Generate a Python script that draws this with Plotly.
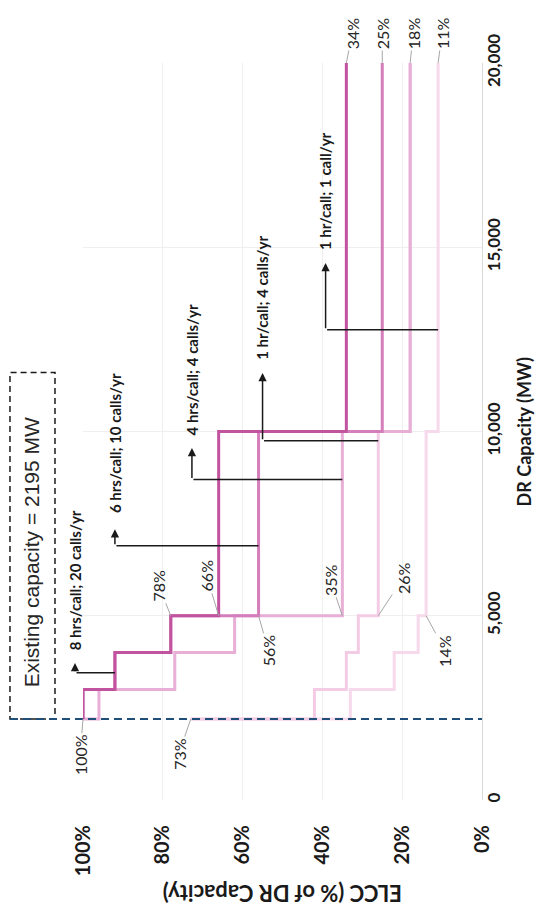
import plotly.graph_objects as go

# ---------------- data ----------------
mw_breaks = [2195, 3000, 4000, 5000, 10000, 20000]
series_names = ["8 hrs/call; 20 calls/yr", "6 hrs/call; 10 calls/yr",
                "4 hrs/call; 4 calls/yr", "1 hr/call; 4 calls/yr",
                "1 hr/call; 1 call/yr"]
start_elcc = [100, 100, 100, 73, 73]
elcc_8h20 = [100, 92, 78, 66, 34]
elcc_6h10 = [100, 92, 78, 56, 25]
elcc_4h4 = [96, 77, 62, 35, 18]
elcc_1h4 = [42, 34, 31, 26, 18]
elcc_1h1 = [33, 22, 16, 14, 11]
series_vals = [elcc_8h20, elcc_6h10, elcc_4h4, elcc_1h4, elcc_1h1]

existing_mw = 2195
x_ticks = [100, 80, 60, 40, 20, 0]
y_ticks = [0, 5000, 10000, 15000, 20000]

# callouts: MW where connector meets the series, tranche index
callout_mw = [3450, 6900, 8700, 9750, 12760]
callout_tranche = [1, 3, 3, 3, 4]

# ---------------- styles / positions ----------------
colors = ["#C2549F", "#D47EBC", "#E7AED6", "#F3CBE4", "#F7D9EC"]
callout_elbow = [102, 92, 72.7, 55, 39.2]       # ELCC of the elbow
callout_tip = [3720, 7350, 9550, 11590, 14570]  # MW of arrow tip
callout_text_mw = [4010, 7730, 9850, 11880, 14860]

FONT = "Lato"
X0, X1 = 100, 0


def px(e):
    """ELCC value -> paper x (reversed axis)"""
    return (X0 - e) / (X0 - X1)


fig = go.Figure()

for i in reversed(range(5)):
    xs = [start_elcc[i]] + series_vals[i] + [series_vals[i][-1]]
    ys = [mw_breaks[0]] + mw_breaks
    fig.add_trace(go.Scatter(x=xs, y=ys, mode="lines", line_shape="vh",
                             line=dict(color=colors[i], width=3),
                             name=series_names[i], showlegend=False,
                             hoverinfo="skip"))

annos = []
for k in range(5):
    tgt = series_vals[k][callout_tranche[k]]
    annos.append(dict(x=tgt, y=callout_mw[k], ax=callout_elbow[k], ay=callout_mw[k],
                      xref="x", yref="y", axref="x", ayref="y", text="",
                      showarrow=True, arrowhead=0, arrowwidth=1.5,
                      arrowcolor="#1a1a1a", standoff=0, startstandoff=0))
    annos.append(dict(x=px(callout_elbow[k]), y=callout_tip[k], ax=0,
                      ay=callout_mw[k], xref="paper", yref="y", axref="pixel",
                      ayref="y", text="", showarrow=True, arrowhead=2,
                      arrowsize=1.1, arrowwidth=1.5, arrowcolor="#1a1a1a",
                      standoff=0, startstandoff=0))
    annos.append(dict(x=px(callout_elbow[k]), y=callout_text_mw[k], xref="paper",
                      yref="y", text="<b>" + series_names[k] + "</b>",
                      textangle=-90, showarrow=False, xanchor="center",
                      yanchor="bottom",
                      font=dict(family=FONT, size=15, color="#1a1a1a")))

labels = [
    (start_elcc[0], mw_breaks[0], -3, 36),
    (start_elcc[3], mw_breaks[0], -12, 35),
    (elcc_8h20[2], mw_breaks[3], -12, -30),
    (elcc_8h20[3], mw_breaks[3], -12, -40),
    (elcc_6h10[3], mw_breaks[3], 10, 35),
    (elcc_4h4[3], mw_breaks[3], -12, -36),
    (elcc_1h4[3], mw_breaks[3], 25, -38),
    (elcc_1h1[3], mw_breaks[3], 19, 35),
    (elcc_8h20[4], mw_breaks[5], 6, -30),
    (elcc_6h10[4], mw_breaks[5], 0, -30),
    (elcc_4h4[4], mw_breaks[5], 3, -30),
    (elcc_1h1[4], mw_breaks[5], 4, -30),
]
for v, m, dx, dy in labels:
    annos.append(dict(x=v, y=m, xref="x", yref="y", text=f"{v}%", textangle=-90,
                      showarrow=True, arrowhead=0, arrowwidth=1, arrowcolor="#A6A6A6",
                      ax=dx, ay=dy, standoff=0,
                      font=dict(family=FONT, size=16, color="#262626")))

annos.append(dict(x=-0.127, y=0.3365, xref="paper", yref="paper",
                  xanchor="center", yanchor="middle",
                  text="Existing capacity = " + str(existing_mw) + " MW",
                  textangle=-90, showarrow=False,
                  font=dict(family="Liberation Sans", size=21, color="#262626")))
annos.append(dict(x=1.105, y=0.5, xref="paper", yref="paper",
                  xanchor="center", yanchor="middle",
                  text="<b>DR Capacity (MW)</b>", textangle=-90, showarrow=False,
                  font=dict(family=FONT, size=18, color="#1a1a1a")))
annos.append(dict(x=0.5, y=-0.127, xref="paper", yref="paper",
                  xanchor="center", yanchor="middle",
                  text="<b>ELCC (% of DR Capacity)</b>", textangle=180,
                  showarrow=False,
                  font=dict(family=FONT, size=22, color="#1a1a1a")))

shapes = [
    dict(type="rect", xref="paper", yref="paper", x0=-0.183, x1=-0.0702,
         y0=existing_mw / 20000, y1=0.58,
         line=dict(color="#1a1a1a", width=1.5, dash="6px,4px")),
    dict(type="line", xref="paper", yref="paper", x0=-0.183, x1=1,
         y0=existing_mw / 20000, y1=existing_mw / 20000,
         line=dict(color="#1F4E79", width=2, dash="8px,5px")),
]

fig.update_layout(
    width=555, height=923,
    margin=dict(l=83, r=73, t=63, b=123, pad=0),
    paper_bgcolor="white", plot_bgcolor="white",
    annotations=annos, shapes=shapes, showlegend=False,
    xaxis=dict(range=[X0, X1], tickvals=x_ticks,
               ticktext=[f"{t}%" for t in x_ticks], tickangle=-90,
               showgrid=True, gridcolor="#EFEFEF", gridwidth=1,
               zeroline=False, showline=False, ticks="",
               ticklabelstandoff=20,
               tickfont=dict(family=FONT, size=20, color="#1a1a1a", weight="bold")),
    yaxis=dict(range=[0, 20000], side="right", tickvals=y_ticks, tickformat=",",
               tickangle=-90, showgrid=True, gridcolor="#EFEFEF", gridwidth=1,
               zeroline=False, showline=True, linecolor="#D9D9D9", linewidth=1,
               ticks="", ticklabelstandoff=-3,
               tickfont=dict(family=FONT, size=17, color="#1a1a1a", weight="bold")),
)

fig.write_html("out.html", config={"displayModeBar": False},
               post_script="document.body.style.margin='0px';"
                           "document.body.style.overflow='hidden';")
